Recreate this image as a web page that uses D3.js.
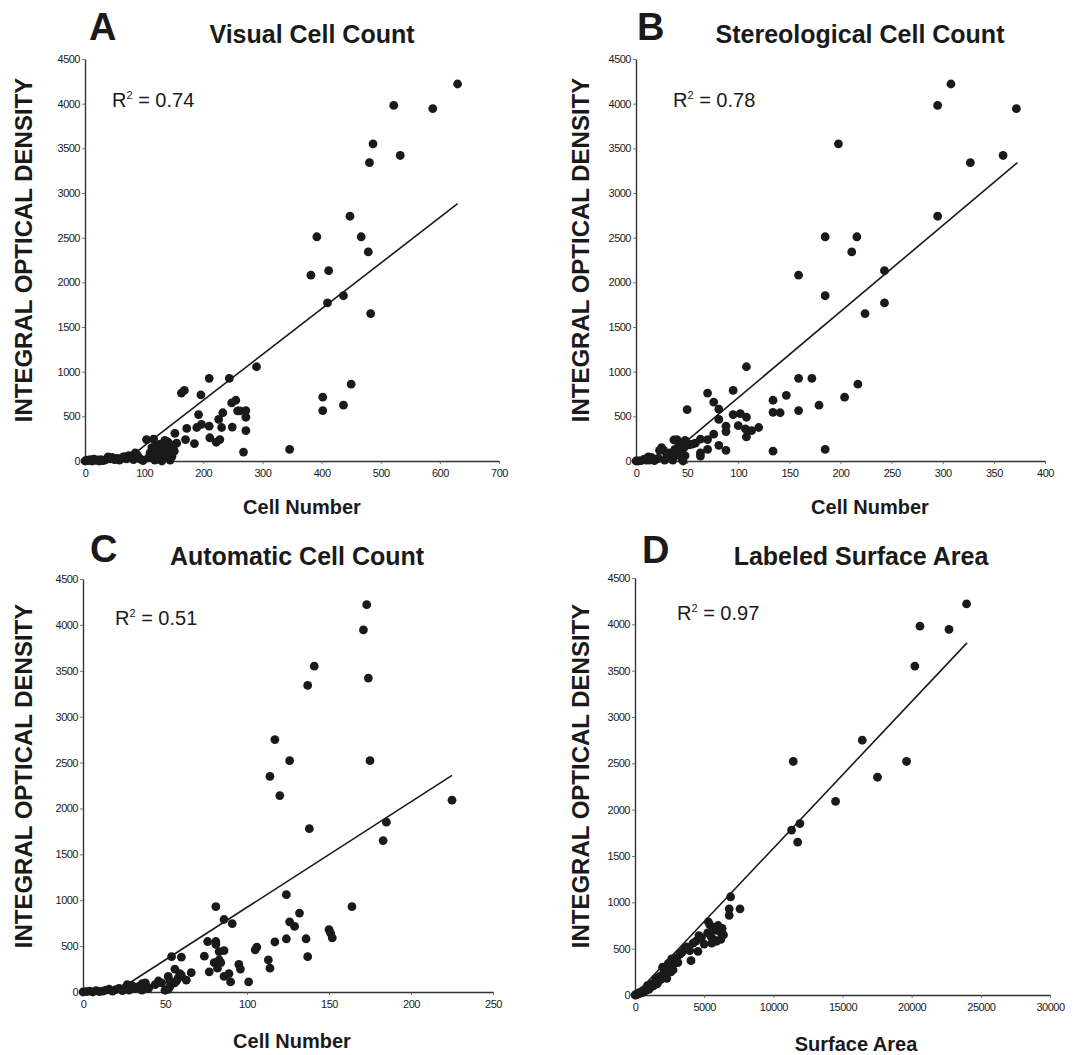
<!DOCTYPE html>
<html><head><meta charset="utf-8">
<script src="https://cdn.jsdelivr.net/npm/d3@7"></script>
<style>
body{margin:0;background:#fff;}
svg{display:block;font-family:"Liberation Sans",Arial,Helvetica,sans-serif;}
</style></head><body>
<svg id="chart" width="1088" height="1055"></svg>
<script>
// ---------- DATA ----------
const yTickValues = [0,500,1000,1500,2000,2500,3000,3500,4000,4500];
const visualXTicks = [0,100,200,300,400,500,600,700];
const stereoXTicks = [0,50,100,150,200,250,300,350,400];
const autoXTicks = [0,50,100,150,200,250];
const areaXTicks = [0,5000,10000,15000,20000,25000,30000];

const visualPoints = [
 [630,4220],[522,3980],[588,3945],[487,3550],[533,3420],[481,3340],[448,2740],[392,2510],[467,2510],[479,2340],
 [382,2080],[412,2130],[410,1770],[437,1850],[483,1650],
 [163,760],[168,790],[196,740],[210,925],[244,925],[290,1055],[248,650],[255,680],[262,560],[272,565],[272,490],
 [272,340],[268,100],[249,380],[233,540],[226,465],[231,375],[228,240],[222,210],[211,260],[210,390],[192,520],
 [197,410],[189,375],[185,195],[172,365],[170,240],[346,130],[402,715],[402,565],[437,625],[450,860],[258,560],
 [104,240],[116,245],[107,35],[110,90],[113,150],[116,60],[119,160],[121,120],[124,20],[127,190],[129,80],[132,30],
 [134,140],[136,60],[138,160],[140,215],[142,100],[144,10],[146,180],[147,50],[149,160],[151,110],[152,310],[155,200],
 [130,0],[118,10],[140,40],[125,100],[135,230],
 [0,0],[3,10],[6,5],[9,15],[12,0],[15,20],[18,8],[21,12],[24,0],[27,15],[30,5],[33,10],[36,18],[39,45],[43,25],
 [46,40],[50,15],[54,30],[58,10],[60,20],[62,35],[66,50],[70,25],[74,60],[78,40],[82,15],[85,90],[88,70],[90,45],[94,20],[98,5]
];
const visualFit = [[75,40],[630,2880]];

const stereoPoints = [
 [308,4220],[295,3980],[372,3945],[198,3550],[359,3420],[327,3340],[295,2740],[185,2510],[216,2510],[211,2340],
 [159,2080],[243,2130],[243,1770],[185,1850],[224,1650],
 [108,1055],[159,925],[172,925],[217,860],[204,715],[159,565],[179,625],[185,130],[134,110],[70,760],[95,790],
 [76,660],[81,580],[81,465],[50,575],[134,680],[147,735],[134,545],[141,540],[95,520],[102,530],[108,490],[88,390],
 [88,330],[100,395],[107,360],[113,340],[120,375],[108,270],[88,120],[81,175],[76,300],[70,240],[63,245],[70,130],
 [63,90],[63,55],[55,190],[58,200],
 [40,240],[42,200],[45,180],[47,150],[38,130],[44,100],[48,60],[35,50],[30,80],[27,120],[25,150],[32,30],[20,20],
 [15,40],[10,10],[5,5],[2,0],[13,10],[18,5],[22,30],[28,10],[36,10],[45,20],[50,200],[52,180],[48,230],[42,120],
 [38,60],[0,0],[8,20],[12,45],[33,90],[46,0],[37,235],[23,120]
];
const stereoFit = [[43,160],[373,3340]];

const autoPoints = [
 [173,4220],[171,3945],[141,3550],[174,3420],[137,3340],[117,2750],[126,2520],[175,2520],[114,2350],[120,2140],
 [225,2090],[138,1780],[185,1850],[183,1650],
 [124,1060],[81,930],[164,930],[86,790],[91,745],[132,860],[126,765],[129,715],[150,680],[151,640],[152,590],
 [136,580],[137,385],[124,580],[117,545],[105,460],[106,490],[113,350],[114,260],[101,110],[76,550],[81,550],
 [81,520],[74,390],[83,440],[86,450],[80,320],[84,320],[83,350],[77,220],[82,260],[86,170],[89,200],[90,110],
 [95,300],[96,250],[54,385],[60,380],[56,250],[59,200],[60,180],[66,210],[63,130],[58,150],[52,170],[53,120],
 [53,60],[56,100],[57,120],[46,120],[34,60],[36,90],[39,60],[38,100],[27,80],[25,30],
 [0,0],[2,5],[4,10],[6,0],[8,15],[10,5],[12,10],[14,20],[16,30],[18,10],[20,25],[22,40],[24,15],[26,50],[28,20],
 [30,70],[32,40],[36,20],[40,40],[44,80],[48,100],[50,20],[52,30]
];
const autoFit = [[25,60],[225,2360]];

const areaPoints = [
 [23970,4220],[20600,3980],[22700,3945],[20230,3550],[16430,2750],[11440,2520],[19630,2520],[17530,2350],
 [14500,2090],[11320,1780],[11920,1850],[11760,1650],[6910,1060],[6810,930],[6810,860],[7590,930],
 [5300,790],[6000,750],[6150,680],[5650,600],[5550,560],[5250,670],[4620,640],[4550,470],[3735,520],[3960,480],
 [4050,370],[3250,440],[2650,390],[2900,350],[2500,320],[2750,270],[2170,280],[2050,230],[2300,180],[1800,200],
 [1700,150],[1350,100],[1000,60],[800,50],[600,30],[400,20],[200,10],[100,5],[1500,180],[2000,300],[2400,340],
 [3000,400],[3400,460],[3600,500],[4200,560],[4800,620],[5000,550],[5800,700],[6300,720],[6400,650],[5500,630],
 [4400,580],[3100,350],[2600,250],[1200,120],[900,100],[1600,120],[2200,250],[1900,170],[700,60],[300,25],
 [1100,80],[500,40],[150,10],[50,0],[6200,600],[5900,580],[0,0],[5400,760],[5700,730]
];
const areaFit = [[0,0],[24000,3800]];

// ---------- LAYOUT ----------
const panels = [
 {letter:"A", title:"Visual Cell Count", xLabel:"Cell Number", r2:"0.74",
  points:visualPoints, fit:visualFit, xTicks:visualXTicks,
  box:{l:85,r:499,t:59,b:461}, titleX:312, titleY:43, letterX:89, letterY:40,
  r2X:112, r2Y:107, yLabX:32, yLabY:250, xLabX:302, xLabY:514},
 {letter:"B", title:"Stereological Cell Count", xLabel:"Cell Number", r2:"0.78",
  points:stereoPoints, fit:stereoFit, xTicks:stereoXTicks,
  box:{l:636,r:1045,t:59,b:461}, titleX:860, titleY:43, letterX:637, letterY:40,
  r2X:673, r2Y:107, yLabX:589, yLabY:250, xLabX:870, xLabY:514},
 {letter:"C", title:"Automatic Cell Count", xLabel:"Cell Number", r2:"0.51",
  points:autoPoints, fit:autoFit, xTicks:autoXTicks,
  box:{l:83,r:493,t:579,b:992}, titleX:297, titleY:565, letterX:90, letterY:562,
  r2X:115, r2Y:625, yLabX:32, yLabY:776, xLabX:292, xLabY:1048},
 {letter:"D", title:"Labeled Surface Area", xLabel:"Surface Area", r2:"0.97",
  points:areaPoints, fit:areaFit, xTicks:areaXTicks,
  box:{l:635,r:1050,t:578,b:995}, titleX:861, titleY:565, letterX:642, letterY:563,
  r2X:677, r2Y:620, yLabX:589, yLabY:776, xLabX:856, xLabY:1051}
];

const svg = d3.select("#chart");
const ink = "#1a1a1a";
const fmt = d3.format("d");

panels.forEach(p => {
  const x = d3.scaleLinear().domain([p.xTicks[0], p.xTicks[p.xTicks.length-1]]).range([p.box.l, p.box.r]);
  const y = d3.scaleLinear().domain([0, 4500]).range([p.box.b, p.box.t]);
  const g = svg.append("g");

  // axes
  const yAxis = d3.axisLeft(y).tickValues(yTickValues).tickFormat(fmt).tickSize(3).tickSizeOuter(0).tickPadding(2);
  const xAxis = d3.axisBottom(x).tickValues(p.xTicks).tickFormat(fmt).tickSize(3).tickSizeOuter(0).tickPadding(5);
  const ya = g.append("g").attr("transform", `translate(${p.box.l},0)`).call(yAxis);
  const xa = g.append("g").attr("transform", `translate(0,${p.box.b})`).call(xAxis);
  [ya, xa].forEach(a => {
    a.select(".domain").attr("stroke", "#333").attr("stroke-width", 1.4);
    a.selectAll(".tick line").attr("stroke", "#555").attr("stroke-width", 0.8);
    a.selectAll(".tick text").attr("fill", ink).attr("font-size", 11)
      .attr("letter-spacing", -0.5).attr("font-family", '"Liberation Sans",Arial,sans-serif');
  });

  // fit line
  g.append("path").datum(p.fit)
    .attr("d", d3.line().x(d => x(d[0])).y(d => y(d[1])))
    .attr("fill", "none").attr("stroke", ink).attr("stroke-width", 1.6);

  // points
  g.append("g").selectAll("circle").data(p.points).join("circle")
    .attr("cx", d => x(d[0])).attr("cy", d => y(d[1])).attr("r", 4.4)
    .attr("fill", ink);

  // texts
  g.append("text").attr("x", p.letterX).attr("y", p.letterY)
    .attr("font-size", 38).attr("font-weight", "bold").attr("fill", ink).text(p.letter);
  g.append("text").attr("x", p.titleX).attr("y", p.titleY).attr("text-anchor", "middle")
    .attr("font-size", 25).attr("font-weight", "bold").attr("fill", ink).text(p.title);
  const r2 = g.append("text").attr("x", p.r2X).attr("y", p.r2Y)
    .attr("font-size", 20).attr("fill", ink);
  r2.append("tspan").text("R");
  r2.append("tspan").attr("font-size", 11).attr("dy", -8).text("2");
  r2.append("tspan").attr("dy", 8).text(" = " + p.r2);
  g.append("text").attr("transform", `translate(${p.yLabX},${p.yLabY}) rotate(-90)`)
    .attr("text-anchor", "middle").attr("font-size", 24).attr("font-weight", "bold")
    .attr("fill", ink).text("INTEGRAL OPTICAL DENSITY");
  g.append("text").attr("x", p.xLabX).attr("y", p.xLabY).attr("text-anchor", "middle")
    .attr("font-size", 20).attr("font-weight", "bold").attr("fill", ink).text(p.xLabel);
});
</script>
</body></html>
